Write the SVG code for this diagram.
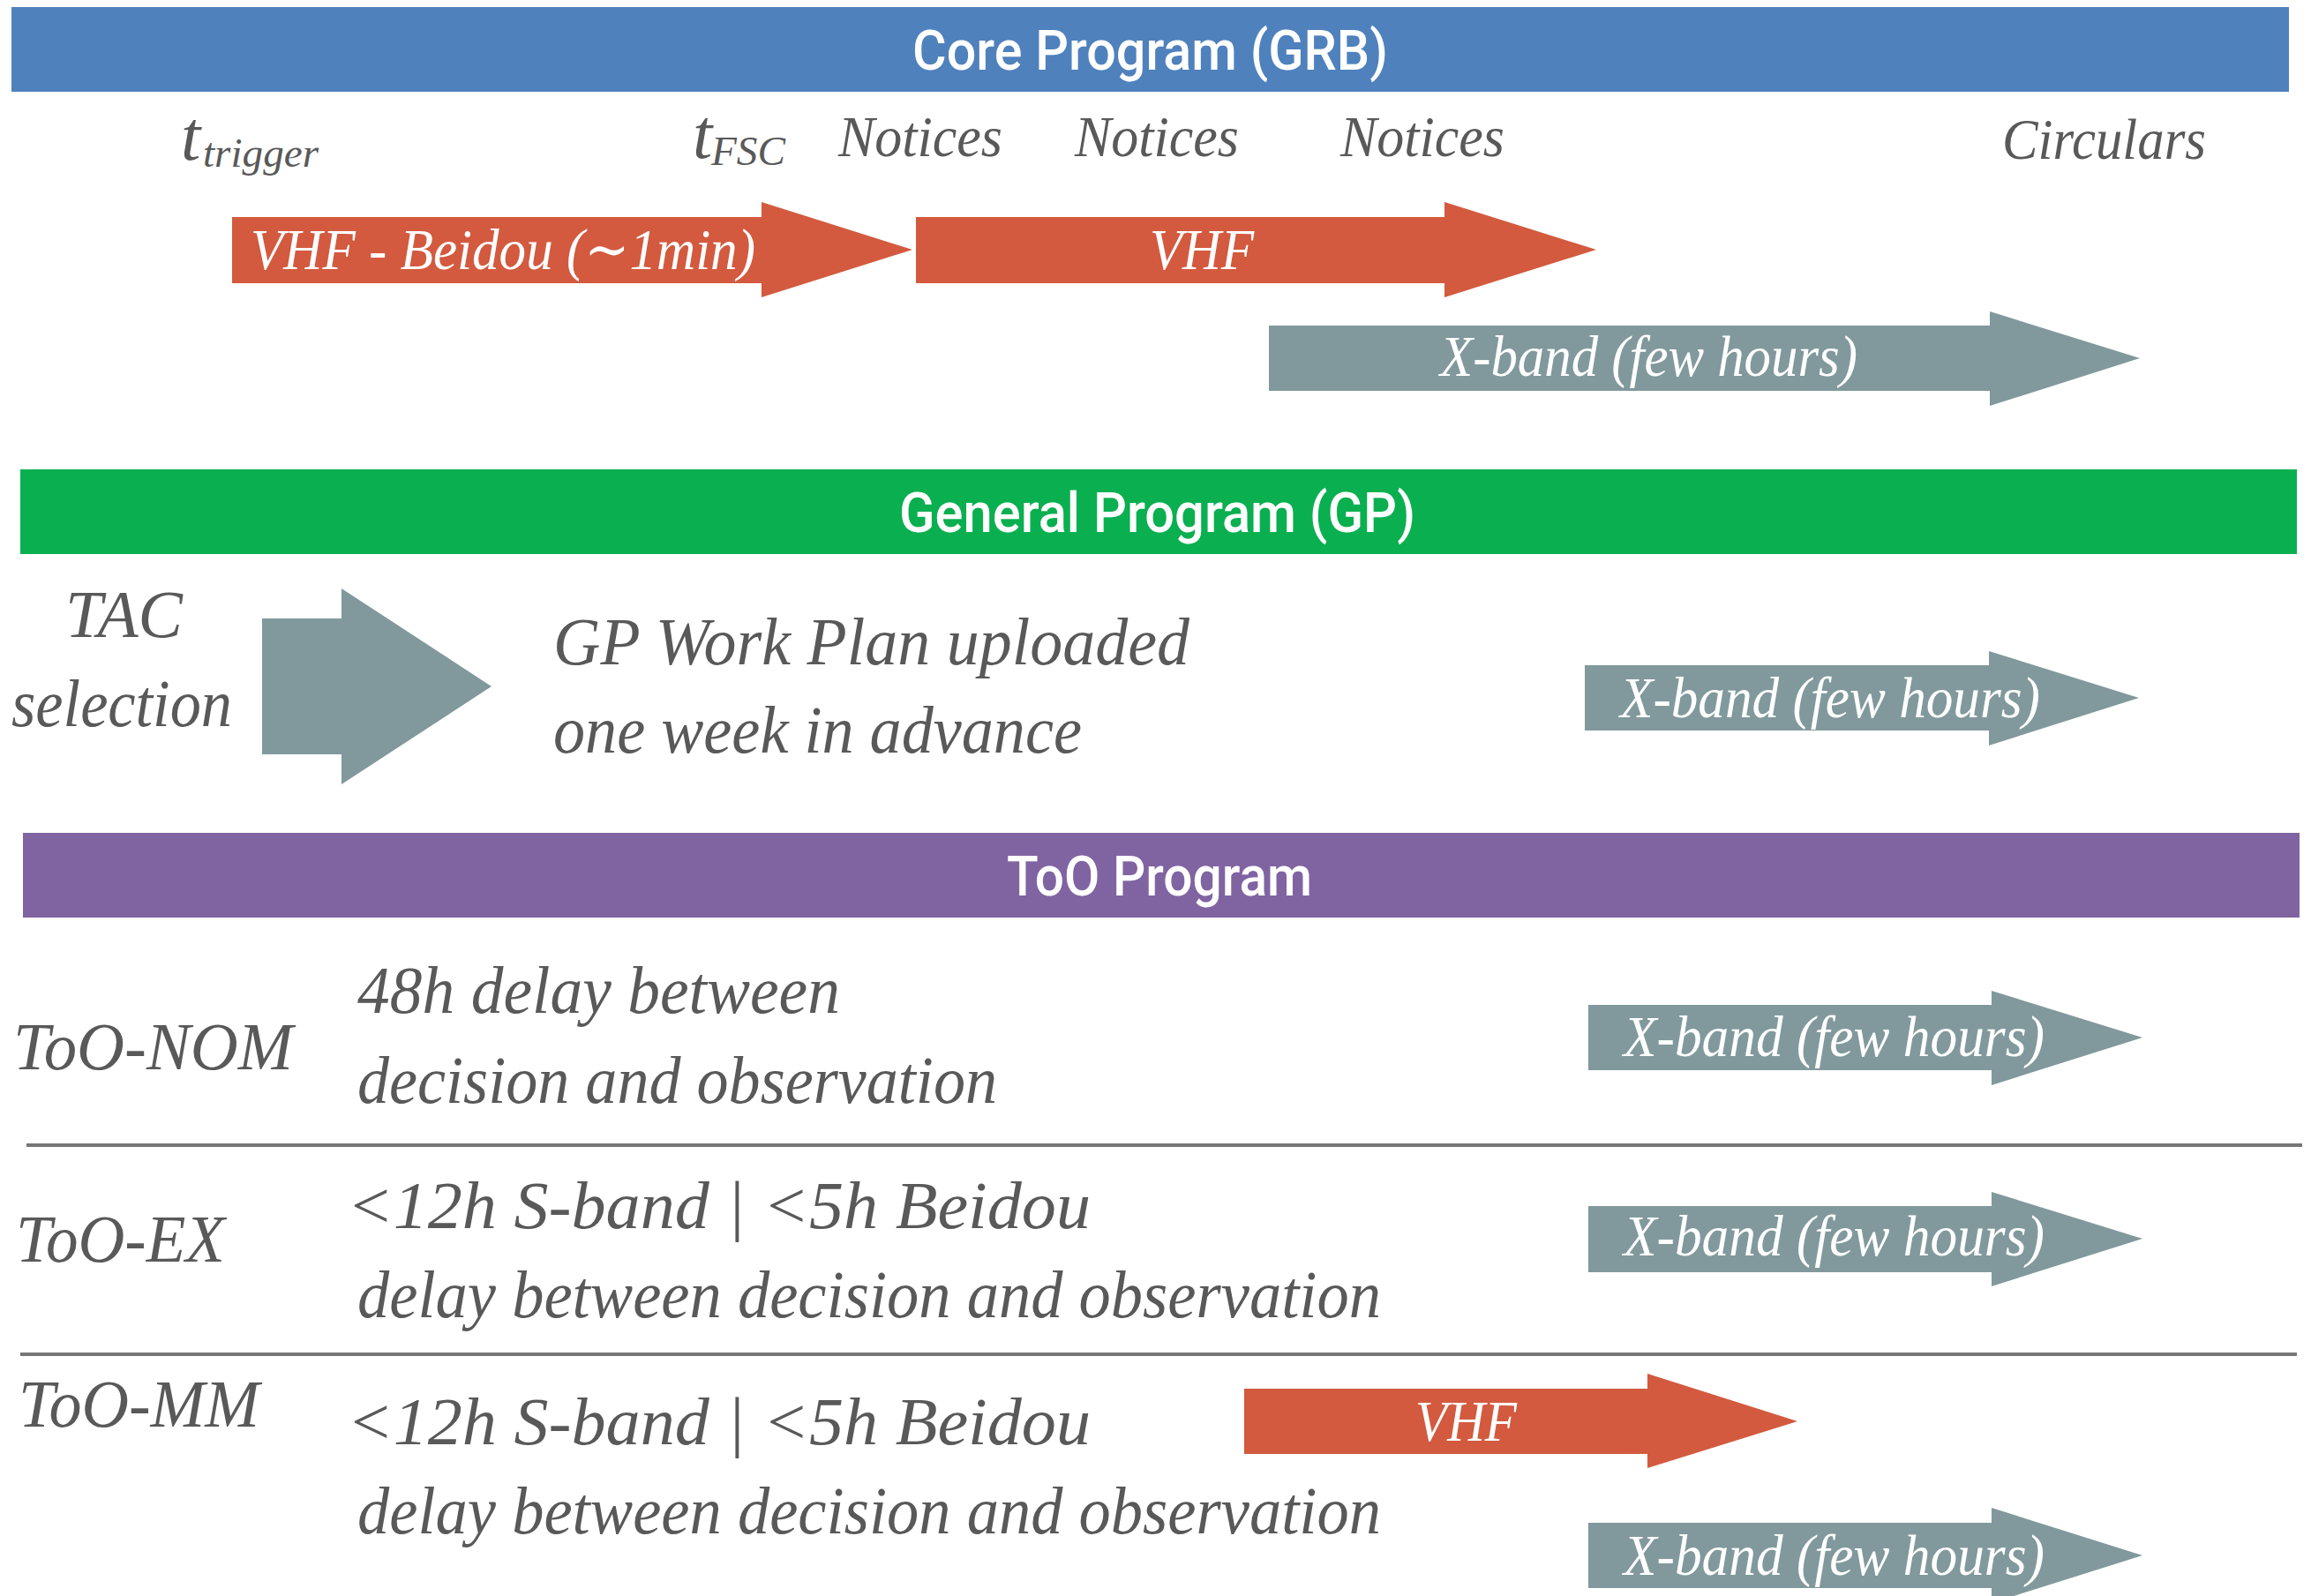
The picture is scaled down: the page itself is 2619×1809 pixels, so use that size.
<svg xmlns="http://www.w3.org/2000/svg" width="2619" height="1809" viewBox="0 0 2619 1809">
  <style>
    .banner-title { font-family: Roboto, "Liberation Sans", sans-serif; font-weight: 500; font-size: 63px; fill: #ffffff; }
    .lbl { font-family: "Liberation Serif", "DejaVu Serif", serif; font-style: italic; fill: #595959; }
    .in { font-family: "Liberation Serif", "DejaVu Serif", serif; font-style: italic; fill: #ffffff; font-size: 66px; }
    .red { fill: #D35A3F; }
    .grey { fill: #81999C; }
    .sep { stroke: #767676; stroke-width: 4; }
  </style>

  <rect width="2619" height="1809" fill="#ffffff"/>

  <!-- Core Program (GRB) -->
  <g id="core-banner">
    <rect x="13" y="8" width="2581" height="96" fill="#4F81BD"/>
    <text class="banner-title" x="1034" y="79" textLength="539" lengthAdjust="spacingAndGlyphs">Core Program (GRB)</text>
  </g>

  <g id="core-labels" class="lbl">
    <text x="205" y="181" font-size="80">t<tspan x="230" y="189" font-size="47" textLength="131" lengthAdjust="spacingAndGlyphs">trigger</tspan></text>
    <text x="785" y="179" font-size="80">t<tspan x="806" y="187" font-size="47" textLength="84" lengthAdjust="spacingAndGlyphs">FSC</tspan></text>
    <text x="950" y="177" font-size="66" textLength="186" lengthAdjust="spacingAndGlyphs">Notices</text>
    <text x="1218" y="177" font-size="66" textLength="186" lengthAdjust="spacingAndGlyphs">Notices</text>
    <text x="1519" y="177" font-size="66" textLength="186" lengthAdjust="spacingAndGlyphs">Notices</text>
    <text x="2269" y="180" font-size="66" textLength="231" lengthAdjust="spacingAndGlyphs">Circulars</text>
  </g>

  <g id="core-vhf-beidou">
    <polygon class="red" points="263,246 863,246 863,229 1034,283 863,337 863,321 263,321"/>
    <text class="in" x="284" y="305" textLength="572" lengthAdjust="spacingAndGlyphs">VHF - Beidou (∼1min)</text>
  </g>

  <g id="core-vhf">
    <polygon class="red" points="1038,246 1637,246 1637,229 1809,283 1637,337 1637,321 1038,321"/>
    <text class="in" x="1303" y="305" textLength="118" lengthAdjust="spacingAndGlyphs">VHF</text>
  </g>

  <g id="core-xband">
    <polygon class="grey" points="1438,369 2255,369 2255,353 2425,406 2255,460 2255,443 1438,443"/>
    <text class="in" x="1632" y="426" textLength="473" lengthAdjust="spacingAndGlyphs">X-band (few hours)</text>
  </g>

  <!-- General Program (GP) -->
  <g id="gp-banner">
    <rect x="23" y="532" width="2580" height="96" fill="#0AAF50"/>
    <text class="banner-title" x="1019" y="603" textLength="585" lengthAdjust="spacingAndGlyphs">General Program (GP)</text>
  </g>

  <g id="gp-tac" class="lbl">
    <text x="74" y="722" font-size="76" textLength="133" lengthAdjust="spacingAndGlyphs">TAC</text>
    <text x="13" y="823" font-size="76" textLength="250" lengthAdjust="spacingAndGlyphs">selection</text>
  </g>

  <g id="gp-tac-arrow">
    <polygon class="grey" points="297,701 387,701 387,667 557,778 387,889 387,855 297,855"/>
  </g>

  <g id="gp-workplan" class="lbl">
    <text x="627" y="753" font-size="77" textLength="721" lengthAdjust="spacingAndGlyphs">GP Work Plan uploaded</text>
    <text x="627" y="853" font-size="77" textLength="599" lengthAdjust="spacingAndGlyphs">one week in advance</text>
  </g>

  <g id="gp-xband">
    <polygon class="grey" points="1796,754 2254,754 2254,738 2424,791 2254,845 2254,828 1796,828"/>
    <text class="in" x="1836" y="813" textLength="476" lengthAdjust="spacingAndGlyphs">X-band (few hours)</text>
  </g>

  <!-- ToO Program -->
  <g id="too-banner">
    <rect x="26" y="944" width="2580" height="96" fill="#8064A2"/>
    <text class="banner-title" x="1141" y="1015" textLength="346" lengthAdjust="spacingAndGlyphs">ToO Program</text>
  </g>

  <g id="too-nom" class="lbl">
    <text x="15" y="1212" font-size="76" textLength="317" lengthAdjust="spacingAndGlyphs">ToO-NOM</text>
    <text x="405" y="1148" font-size="76" textLength="547" lengthAdjust="spacingAndGlyphs">48h delay between</text>
    <text x="405" y="1250" font-size="76" textLength="725" lengthAdjust="spacingAndGlyphs">decision and observation</text>
  </g>

  <g id="too-nom-xband">
    <polygon class="grey" points="1800,1139 2257,1139 2257,1123 2428,1176 2257,1230 2257,1213 1800,1213"/>
    <text class="in" x="1840" y="1197" textLength="477" lengthAdjust="spacingAndGlyphs">X-band (few hours)</text>
  </g>

  <g id="too-ex" class="lbl">
    <text x="18" y="1430" font-size="76" textLength="237" lengthAdjust="spacingAndGlyphs">ToO-EX</text>
    <text x="393" y="1392" font-size="76" textLength="843" lengthAdjust="spacingAndGlyphs">&lt;12h S-band | &lt;5h Beidou</text>
    <text x="405" y="1493" font-size="76" textLength="1160" lengthAdjust="spacingAndGlyphs">delay between decision and observation</text>
  </g>

  <g id="too-ex-xband">
    <polygon class="grey" points="1800,1367 2257,1367 2257,1351 2428,1404 2257,1458 2257,1442 1800,1442"/>
    <text class="in" x="1840" y="1423" textLength="477" lengthAdjust="spacingAndGlyphs">X-band (few hours)</text>
  </g>

  <g id="too-mm" class="lbl">
    <text x="21" y="1617" font-size="76" textLength="273" lengthAdjust="spacingAndGlyphs">ToO-MM</text>
    <text x="393" y="1637" font-size="76" textLength="843" lengthAdjust="spacingAndGlyphs">&lt;12h S-band | &lt;5h Beidou</text>
    <text x="405" y="1738" font-size="76" textLength="1160" lengthAdjust="spacingAndGlyphs">delay between decision and observation</text>
  </g>

  <g id="too-mm-vhf">
    <polygon class="red" points="1410,1574 1867,1574 1867,1557 2037,1611 1867,1664 1867,1648 1410,1648"/>
    <text class="in" x="1604" y="1633" textLength="115" lengthAdjust="spacingAndGlyphs">VHF</text>
  </g>

  <g id="too-mm-xband">
    <polygon class="grey" points="1800,1726 2257,1726 2257,1709 2428,1763 2257,1817 2257,1800 1800,1800"/>
    <text class="in" x="1840" y="1785" textLength="477" lengthAdjust="spacingAndGlyphs">X-band (few hours)</text>
  </g>

  <!-- row dividers inside the ToO section -->
  <g id="connectors">
    <line class="sep" x1="30" y1="1298" x2="2609" y2="1298"/>
    <line class="sep" x1="23" y1="1535" x2="2603" y2="1535"/>
  </g>
</svg>
